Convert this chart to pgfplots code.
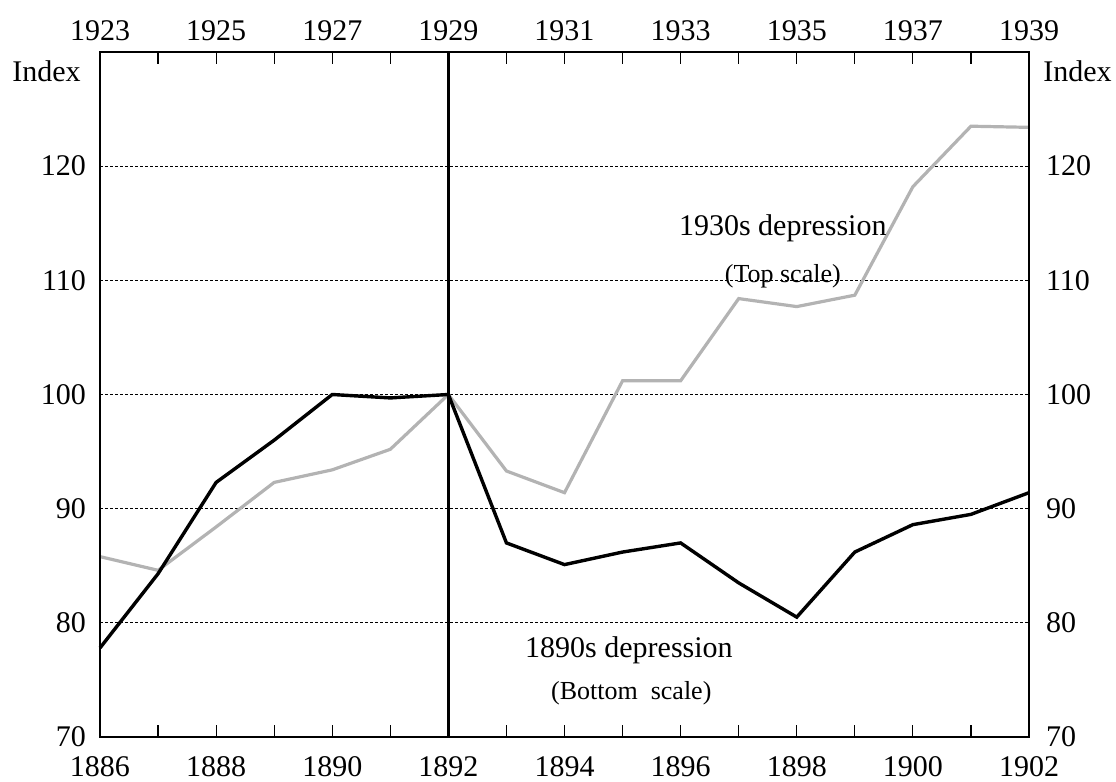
\documentclass[border=0pt]{standalone}
\usepackage{fontspec}
\setmainfont{Liberation Serif}
\usepackage{pgfplots}
\pgfplotsset{compat=1.18}
\definecolor{lightline}{HTML}{B3B3B3}

\pgfplotsset{
  basestyle/.style={
    scale only axis,
    width=464.5bp, height=342.5bp,
    ymin=70, ymax=130,
    ytick={70,80,...,120},
    tick label style={font=\fontsize{15bp}{18bp}\selectfont},
    /pgf/number format/assume math mode=true,
    /pgf/number format/1000 sep={},
    axis line style={line width=1bp},
  },
}

\begin{document}
\begin{tikzpicture}
% top scale: 1930s depression, drawn first so it sits under the black line
\begin{axis}[basestyle,
  xmin=1923, xmax=1939,
  xtick={1923,1925,...,1939},
  xticklabels={1923,1925,1927,1929,1931,1933,1935,1937,1939},
  xticklabel pos=upper,
  yticklabel pos=right,
  major tick length=0pt,
  xticklabel style={yshift=2bp},
  yticklabel style={xshift=5bp},
  ymajorgrids,
  grid style={black, line width=0.5bp, dash pattern=on 1.5bp off 1bp},
]
\addplot[lightline, line width=1.6bp] coordinates {
(1923,85.8)(1924,84.6)(1925,88.4)(1926,92.3)(1927,93.4)(1928,95.2)(1929,100.0)
(1930,93.3)(1931,91.4)(1932,101.2)(1933,101.2)(1934,108.4)(1935,107.7)
(1936,108.7)(1937,118.2)(1938,123.5)(1939,123.4)};
\end{axis}

% bottom scale: 1890s depression
\begin{axis}[basestyle,
  xmin=1886, xmax=1902,
  xtick={1886,1888,...,1902},
  xticklabels={1886,1888,1890,1892,1894,1896,1898,1900,1902},
  minor xtick={1887,1889,...,1901},
  xtick pos=both, xticklabel pos=lower,
  yticklabel pos=left,
  ytick style={draw=none},
  xtick style={black, line width=0.6bp},
  major tick length=6bp, minor tick length=6bp,
  xticklabel style={yshift=-6.5bp},
  yticklabel style={xshift=-3.5bp},
  clip=false,
]
\draw[black, line width=1.4bp] (axis cs:1892,70) -- (axis cs:1892,130);
\addplot[black, line width=1.7bp] coordinates {
(1886,77.8)(1887,84.3)(1888,92.3)(1889,96.0)(1890,100.0)(1891,99.7)(1892,100.0)
(1893,87.0)(1894,85.1)(1895,86.2)(1896,87.0)(1897,83.5)(1898,80.5)
(1899,86.2)(1900,88.6)(1901,89.5)(1902,91.4)};

\node[anchor=north east, font=\fontsize{15bp}{18bp}\selectfont, inner sep=0pt]
  at ([xshift=-9.5bp, yshift=-4bp]rel axis cs:0,1) {Index};
\node[anchor=north west, font=\fontsize{15bp}{18bp}\selectfont, inner sep=0pt]
  at ([xshift=7bp, yshift=-4bp]rel axis cs:1,1) {Index};

\node[font=\fontsize{15bp}{18bp}\selectfont] at (axis cs:1897.76,114.6) {1930s depression};
\node[font=\fontsize{13bp}{15bp}\selectfont] at (axis cs:1897.76,110.4) {(Top scale)};
\node[font=\fontsize{15bp}{18bp}\selectfont] at (axis cs:1895.11,77.6) {1890s depression};
\node[font=\fontsize{13bp}{15bp}\selectfont] at (axis cs:1895.15,73.8) {(Bottom\ \ scale)};

\coordinate (ll) at ([xshift=-50bp, yshift=-22.5bp]rel axis cs:0,0);
\coordinate (ur) at ([xshift=43.5bp, yshift=26bp]rel axis cs:1,1);
\end{axis}
\pgfresetboundingbox
\useasboundingbox (ll) rectangle (ur);
\end{tikzpicture}
\end{document}
